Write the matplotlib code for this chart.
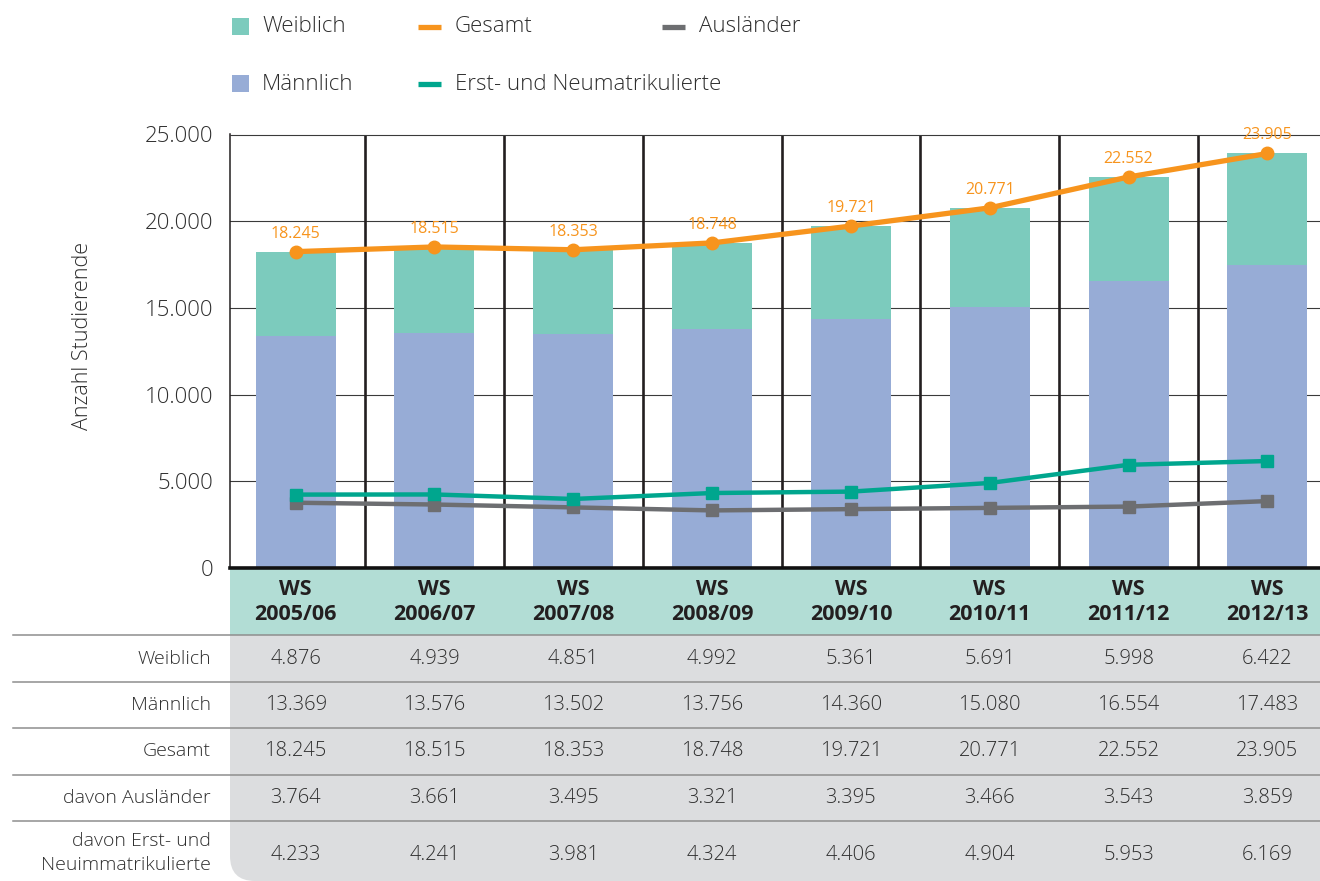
import numpy as np
import matplotlib
matplotlib.use("Agg")
import matplotlib.pyplot as plt
import matplotlib.transforms as mtransforms
from matplotlib.patches import Rectangle, FancyBboxPatch
from matplotlib.lines import Line2D

plt.rcParams['font.family'] = ['Open Sans', 'DejaVu Sans']

# Daten
semester = ["2005/06", "2006/07", "2007/08", "2008/09", "2009/10", "2010/11", "2011/12", "2012/13"]
weiblich = [4876, 4939, 4851, 4992, 5361, 5691, 5998, 6422]
maennlich = [13369, 13576, 13502, 13756, 14360, 15080, 16554, 17483]
gesamt = [18245, 18515, 18353, 18748, 19721, 20771, 22552, 23905]
auslaender = [3764, 3661, 3495, 3321, 3395, 3466, 3543, 3859]
erstsemester = [4233, 4241, 3981, 4324, 4406, 4904, 5953, 6169]
zeilen = ["Weiblich", "Männlich", "Gesamt", "davon Ausländer", "davon Erst- und\nNeuimmatrikulierte"]
legende = ["Weiblich", "Männlich", "Gesamt", "Erst- und Neumatrikulierte", "Ausländer"]

c_weib = "#7ccbbd"
c_mann = "#97acd6"
c_ges = "#f7941d"
c_erst = "#00a68e"
c_ausl = "#6d6e71"
c_head = "#b2ddd5"
c_grau = "#dcdddf"
c_text = "#2e2e2e"
LIGHT = "light"


def fmt(v):
    return f"{v:,}".replace(",", ".")


W, H = 1320, 881
fig = plt.figure(figsize=(W / 100, H / 100), dpi=100)
pix = mtransforms.Affine2D().scale(1 / W, -1 / H).translate(0, 1) + fig.transFigure

cw = 138.83          # Pixel pro Kategorie
x0 = -0.5 + (230 - 226.2) / cw
x1 = 7.5
ax_w = (x1 - x0) * cw / W

def px2x(p):
    return x0 + (p - 230) / cw

ax = fig.add_axes([230 / W, 1 - 568 / H, ax_w, (568 - 134.5) / H])
x = np.arange(len(semester))

ax.bar(x, maennlich, width=0.576, color=c_mann, zorder=2)
ax.bar(x, weiblich, bottom=maennlich, width=0.576, color=c_weib, zorder=2)

for b in np.arange(0.5, 7.5, 1.0):
    ax.axvline(b, color="#231f20", lw=1.9, zorder=1)

ax.plot(x, auslaender, color=c_ausl, lw=3.2, marker="s", ms=9, zorder=4)
ax.plot(x, erstsemester, color=c_erst, lw=3.2, marker="s", ms=9, zorder=4)
ax.plot(x, gesamt, color=c_ges, lw=3.8, marker="o", ms=9, zorder=5)
for xi, v in zip(x, gesamt):
    ax.annotate(fmt(v), (xi, v), xytext=(0, 13), textcoords="offset points",
                ha="center", va="center", fontsize=11.5, color=c_ges, zorder=6)

ax.set_xlim(x0, x1)
ax.set_ylim(0, 25000)
ax.set_xticks([])
ticks = list(range(0, 25001, 5000))
ax.set_yticks(ticks)
ax.set_yticklabels([fmt(t) for t in ticks], fontweight=LIGHT)
ax.tick_params(axis="y", length=0, pad=12, labelsize=16, labelcolor=c_text)
ax.yaxis.grid(True, color="#3a3a3a", lw=0.8, zorder=0)
ax.set_axisbelow(True)
ax.spines["right"].set_visible(False)
ax.spines["top"].set_color("#3a3a3a")
ax.spines["top"].set_linewidth(0.8)
ax.spines["left"].set_color("#231f20")
ax.spines["left"].set_linewidth(1.1)
ax.spines["bottom"].set_color("#111111")
ax.spines["bottom"].set_linewidth(2.6)
ax.spines["bottom"].set_zorder(6)

fig.text(82 / W, 1 - 336 / H, "Anzahl Studierende", rotation=90, ha="center", va="center",
         fontsize=15.5, color=c_text, fontweight=LIGHT)

# Tabelle
fig.add_artist(FancyBboxPatch((230, 600), 1200, 281, boxstyle="round,pad=0,rounding_size=25",
                              transform=pix, facecolor=c_grau, edgecolor="none", zorder=-2))
fig.add_artist(Rectangle((230, 568), 1200, 67, transform=pix, facecolor=c_head,
                         edgecolor="none", zorder=-1))
for yl in [635, 682, 728, 775, 821]:
    fig.add_artist(Line2D([13, 1320], [yl, yl], transform=pix, color="#8e8e8e", lw=1.1, zorder=0))

tab = fig.add_axes([230 / W, 0, ax_w, 1 - 568 / H])
tab.set_xlim(x0, x1)
tab.set_ylim(881, 568)
tab.axis("off")

for xi, s in zip(x, semester):
    tab.text(xi, 602, f"WS\n{s}", ha="center", va="center", fontsize=15.5, fontweight="bold",
             color="#231f20", linespacing=1.2)

zeilen_y = [659, 705, 751, 798, 853]
werte = [weiblich, maennlich, gesamt, auslaender, erstsemester]
for lbl, yc, reihe in zip(zeilen, zeilen_y, werte):
    tab.text(px2x(211), yc, lbl, ha="right", va="center", fontsize=14, color=c_text,
             multialignment="right", linespacing=1.42, clip_on=False, fontweight=LIGHT)
    for xi, v in zip(x, reihe):
        tab.text(xi, yc + (2 if "\n" in lbl else 0), fmt(v), ha="center", va="center",
                 fontsize=14.5, color=c_text, fontweight=LIGHT)

# Legende
leg_items = [
    ("patch", c_weib, 232, 27, legende[0]),
    ("patch", c_mann, 232, 84, legende[1]),
    ("line", c_ges, 418, 27, legende[2]),
    ("line", c_erst, 418, 84, legende[3]),
    ("line", c_ausl, 662, 27, legende[4]),
]
for kind, col, lx, ly, txt in leg_items:
    if kind == "patch":
        fig.add_artist(Rectangle((lx, ly - 9), 17, 17, transform=pix, facecolor=col, edgecolor="none"))
        tx = lx + 30
    else:
        fig.add_artist(Line2D([lx, lx + 23], [ly, ly], transform=pix, color=col, lw=3.8,
                              solid_capstyle="butt"))
        tx = lx + 37
    fig.text(tx / W, 1 - ly / H, txt, ha="left", va="center", fontsize=16, color=c_text,
             fontweight=LIGHT)

fig.savefig("out.png", dpi=100)
